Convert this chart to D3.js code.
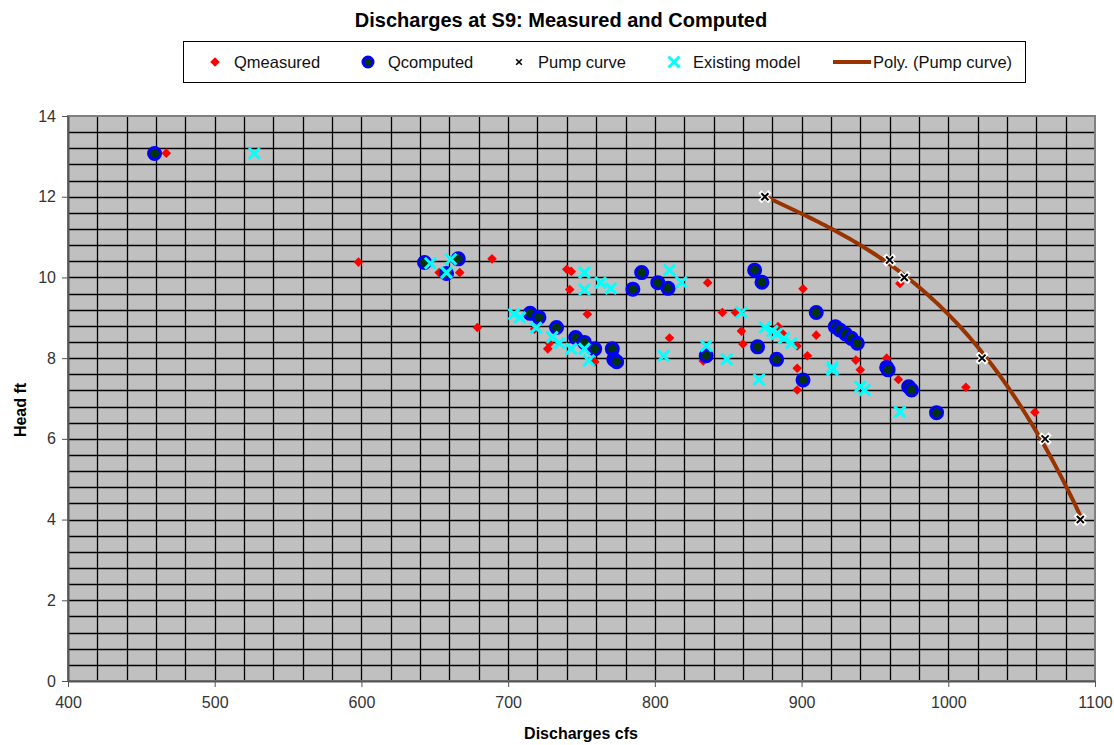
<!DOCTYPE html>
<html>
<head>
<meta charset="utf-8">
<script src="https://cdn.jsdelivr.net/npm/d3@7"></script>
<style>
  body { margin: 0; background: #fff; }
  svg { font-family: "Liberation Sans", Arial, sans-serif; }
</style>
</head>
<body>
<div id="chart"></div>
<script>
// data: [discharge cfs, head ft]
const qMeasured = [
  [467, 13.08], [598, 10.38], [689, 10.46], [653, 10.12], [667, 10.12], [679, 8.76],
  [740, 10.20], [743, 10.15], [742, 9.70], [754, 9.09], [718, 8.72], [728, 8.37],
  [727, 8.23], [759, 7.91], [836, 9.87], [901, 9.72], [846, 9.13], [855, 9.13],
  [810, 8.50], [859, 8.67], [860, 8.35], [884, 8.78], [887, 8.61], [897, 8.30],
  [910, 8.57], [904, 8.06], [897, 7.75], [897, 7.21], [833, 7.93], [937, 7.95],
  [940, 7.71], [958, 8.00], [966, 7.47], [1012, 7.28], [967, 9.85], [1059, 6.66]
];
const qComputed = [
  [459, 13.07], [643, 10.37], [666, 10.46], [658, 10.10], [715, 9.11], [721, 9.01],
  [733, 8.76], [746, 8.51], [752, 8.39], [759, 8.23], [771, 8.23], [772, 7.97],
  [774, 7.91], [785, 9.71], [791, 10.12], [802, 9.87], [809, 9.73], [868, 10.18],
  [873, 9.88], [910, 9.13], [923, 8.78], [926, 8.70], [930, 8.60], [934, 8.49],
  [938, 8.37], [870, 8.28], [835, 8.06], [883, 7.97], [901, 7.46], [958, 7.77],
  [959, 7.71], [973, 7.29], [975, 7.21], [992, 6.65]
];
const pumpCurve = [
  [875, 12.0], [960, 10.43], [970, 10.0], [1023, 8.0], [1066, 6.0], [1090, 4.0]
];
const existingModel = [
  [527, 13.07], [647, 10.35], [661, 10.45], [658, 10.12], [752, 10.12], [752, 9.70],
  [763, 9.87], [770, 9.73], [704, 9.09], [708, 9.01], [719, 8.75], [730, 8.52],
  [735, 8.37], [743, 8.23], [752, 8.23], [755, 7.94], [810, 10.18], [818, 9.88],
  [806, 8.06], [835, 8.30], [849, 7.97], [859, 9.13], [871, 7.47], [875, 8.76],
  [880, 8.67], [883, 8.60], [888, 8.49], [893, 8.37], [921, 7.77], [921, 7.71],
  [940, 7.29], [943, 7.21], [967, 6.67]
];
const xTicks = [400, 500, 600, 700, 800, 900, 1000, 1100];
const yTicks = [0, 2, 4, 6, 8, 10, 12, 14];

const W = 1114, H = 745;
const margin = { top: 116, right: 19, bottom: 64, left: 68 };
const width = W - margin.left - margin.right;
const height = H - margin.top - margin.bottom;

const svg = d3.select("#chart").append("svg")
  .attr("width", W).attr("height", H);

// title
svg.append("text")
  .attr("x", 561).attr("y", 27)
  .attr("text-anchor", "middle")
  .attr("font-size", 20).attr("font-weight", "bold")
  .text("Discharges at S9: Measured and Computed");

const g = svg.append("g")
  .attr("transform", `translate(${margin.left},${margin.top})`);

const x = d3.scaleLinear().domain([400, 1100]).range([0, width]);
const y = d3.scaleLinear().domain([0, 14]).range([height, 0]);

// plot background
g.append("rect")
  .attr("width", width).attr("height", height)
  .attr("fill", "#c0c0c0");

// grid: every 20 cfs, every 0.4 ft
const xGrid = d3.range(420, 1100, 20);
const yGrid = d3.range(1, 35).map(i => i * 0.4);
g.append("g").selectAll("line").data(xGrid).join("line")
  .attr("x1", d => Math.round(x(d)) + 0.5).attr("x2", d => Math.round(x(d)) + 0.5)
  .attr("y1", 0).attr("y2", height)
  .attr("stroke", "#000").attr("stroke-width", 1.3);
g.append("g").selectAll("line").data(yGrid).join("line")
  .attr("y1", d => Math.round(y(d)) + 0.5).attr("y2", d => Math.round(y(d)) + 0.5)
  .attr("x1", 0).attr("x2", width)
  .attr("stroke", "#000").attr("stroke-width", 1.3);

// plot border
g.append("rect")
  .attr("width", width).attr("height", height)
  .attr("fill", "none").attr("stroke", "#808080").attr("stroke-width", 2);

// axes
const xAxis = g.append("g")
  .attr("transform", `translate(0,${height})`)
  .call(d3.axisBottom(x).tickValues(xTicks).tickFormat(d3.format("d"))
    .tickSize(6).tickSizeOuter(0).tickPadding(10));
const yAxis = g.append("g")
  .call(d3.axisLeft(y).tickValues(yTicks).tickFormat(d3.format("d"))
    .tickSize(6).tickSizeOuter(0).tickPadding(6));
[xAxis, yAxis].forEach(a => {
  a.select(".domain").attr("stroke", "#555").attr("stroke-width", 2);
  a.selectAll(".tick line").attr("stroke", "#555");
  a.selectAll(".tick text").attr("font-size", 16).attr("fill", "#333")
    .attr("font-family", "Liberation Sans, Arial, sans-serif");
});

// axis titles
svg.append("text")
  .attr("x", 581).attr("y", 739)
  .attr("text-anchor", "middle")
  .attr("font-size", 16).attr("font-weight", "bold")
  .text("Discharges cfs");
svg.append("text")
  .attr("transform", "translate(26,410) rotate(-90)")
  .attr("text-anchor", "middle")
  .attr("font-size", 16).attr("font-weight", "bold")
  .text("Head ft");

// polynomial trendline (least squares, order 3) of the pump curve points
function polyFit(pts, order) {
  const n = order + 1;
  const x0 = 1000, s = 100;
  const A = Array.from({ length: n }, () => new Array(n + 1).fill(0));
  pts.forEach(([px, py]) => {
    const u = (px - x0) / s;
    for (let i = 0; i < n; i++) {
      for (let j = 0; j < n; j++) A[i][j] += Math.pow(u, i + j);
      A[i][n] += py * Math.pow(u, i);
    }
  });
  for (let i = 0; i < n; i++) {
    let p = i;
    for (let r = i + 1; r < n; r++) if (Math.abs(A[r][i]) > Math.abs(A[p][i])) p = r;
    [A[i], A[p]] = [A[p], A[i]];
    for (let r = 0; r < n; r++) {
      if (r === i) continue;
      const f = A[r][i] / A[i][i];
      for (let c = i; c <= n; c++) A[r][c] -= f * A[i][c];
    }
  }
  const coef = A.map((row, i) => row[n] / row[i]);
  return v => coef.reduce((acc, c, i) => acc + c * Math.pow((v - x0) / s, i), 0);
}
const fit = polyFit(pumpCurve, 3);
const xMin = d3.min(pumpCurve, d => d[0]), xMax = d3.max(pumpCurve, d => d[0]);
const trend = d3.range(xMin, xMax + 0.01, (xMax - xMin) / 100).map(v => [v, fit(v)]);

g.append("path")
  .datum(trend)
  .attr("d", d3.line().x(d => x(d[0])).y(d => y(d[1])))
  .attr("fill", "none").attr("stroke", "#993300").attr("stroke-width", 4);

// marker helpers
function drawDiamond(sel) {
  sel.append("path").attr("d", "M0,-4.8L4.8,0L0,4.8L-4.8,0Z").attr("fill", "#ff0000");
}
function drawCircle(sel, r) {
  sel.append("circle").attr("r", r).attr("fill", "#003311")
    .attr("stroke", "#0000ff").attr("stroke-width", 3);
}
function drawPump(sel) {
  sel.append("path").attr("d", "M-5,-5L5,5M-5,5L5,-5")
    .attr("stroke", "#fff").attr("stroke-width", 4.5);
  sel.append("path").attr("d", "M-3.5,-3.5L3.5,3.5M-3.5,3.5L3.5,-3.5")
    .attr("stroke", "#000").attr("stroke-width", 2);
}
function drawCross(sel) {
  sel.append("path").attr("d", "M-5.5,-5.5L5.5,5.5M-5.5,5.5L5.5,-5.5")
    .attr("stroke", "#00ffff").attr("stroke-width", 3);
}

g.append("g").selectAll("g").data(qMeasured).join("g")
  .attr("transform", d => `translate(${x(d[0])},${y(d[1])})`)
  .call(drawDiamond);
g.append("g").selectAll("g").data(qComputed).join("g")
  .attr("transform", d => `translate(${x(d[0])},${y(d[1])})`)
  .call(s => drawCircle(s, 6));
g.append("g").selectAll("g").data(pumpCurve).join("g")
  .attr("transform", d => `translate(${x(d[0])},${y(d[1])})`)
  .call(drawPump);
g.append("g").selectAll("g").data(existingModel).join("g")
  .attr("transform", d => `translate(${x(d[0])},${y(d[1])})`)
  .call(drawCross);

// legend
const lg = svg.append("g");
lg.append("rect")
  .attr("x", 183.5).attr("y", 41.5).attr("width", 842).attr("height", 41)
  .attr("fill", "#fff").attr("stroke", "#000").attr("stroke-width", 1);
const legendItems = [
  { label: "Qmeasured", mx: 215, tx: 234, draw: drawDiamond },
  { label: "Qcomputed", mx: 368, tx: 388, draw: s => drawCircle(s, 5) },
  { label: "Pump curve", mx: 519, tx: 538, draw: s => { s.attr("transform", "translate(519,62) scale(0.8)"); drawPump(s); } },
  { label: "Existing model", mx: 674, tx: 693, draw: drawCross },
  { label: "Poly. (Pump curve)", mx: null, tx: 873, draw: null }
];
legendItems.forEach(it => {
  if (it.draw) {
    lg.append("g").attr("transform", `translate(${it.mx},62)`).call(it.draw);
  } else {
    lg.append("line").attr("x1", 833).attr("x2", 871).attr("y1", 62).attr("y2", 62)
      .attr("stroke", "#993300").attr("stroke-width", 4);
  }
  lg.append("text").attr("x", it.tx).attr("y", 68)
    .attr("font-size", 16.5).attr("fill", "#111").text(it.label);
});
</script>
</body>
</html>
